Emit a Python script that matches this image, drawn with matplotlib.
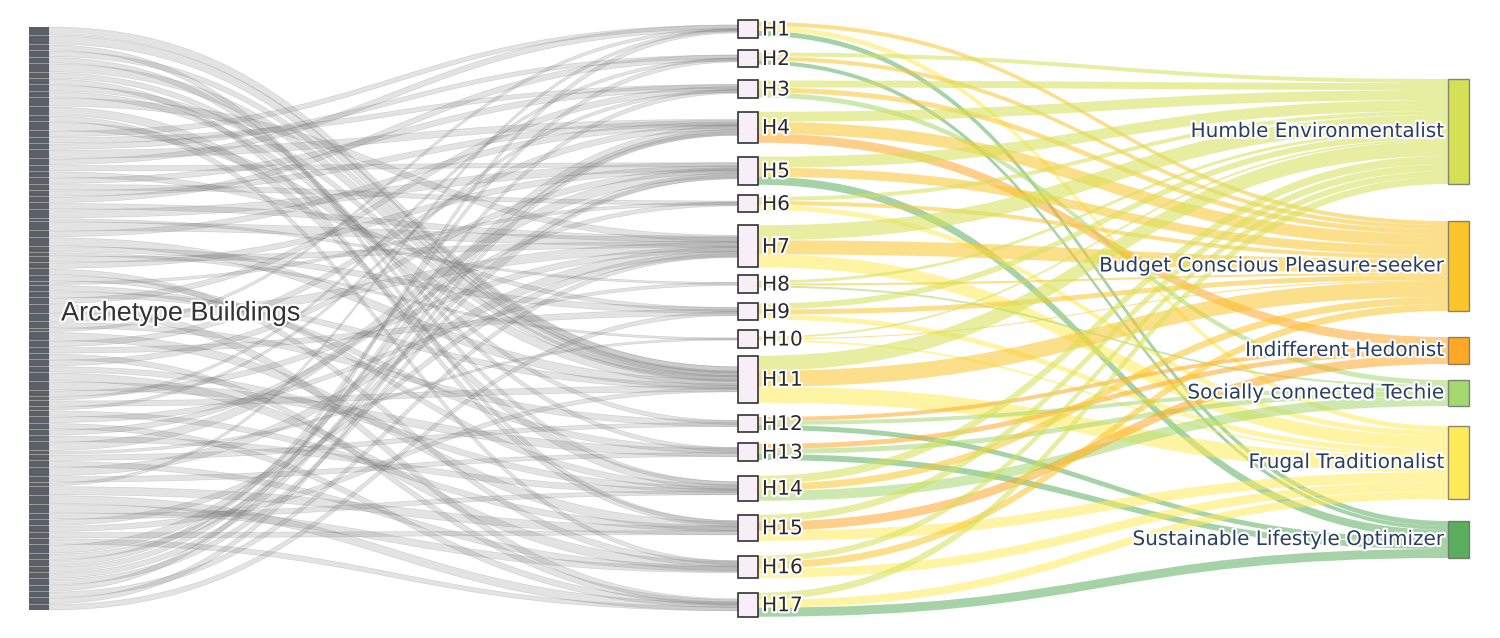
import numpy as np
import matplotlib
matplotlib.use("Agg")
import matplotlib.pyplot as plt
from matplotlib.path import Path
from matplotlib.patches import PathPatch, Rectangle
import matplotlib.patheffects as pe

# ---------------- data ----------------
source_label = "Archetype Buildings"
households = ["H1", "H2", "H3", "H4", "H5", "H6", "H7", "H8", "H9", "H10",
              "H11", "H12", "H13", "H14", "H15", "H16", "H17"]
personas = ["Humble Environmentalist", "Budget Conscious Pleasure-seeker",
            "Indifferent Hedonist", "Socially connected Techie",
            "Frugal Traditionalist", "Sustainable Lifestyle Optimizer"]
persona_colors = ["#d4e157", "#fbc52b", "#ffa726", "#a5d86e", "#ffeb5a", "#5cae5f"]

# household -> persona flows (rows H1..H17; cols follow `personas`)
household_to_persona = [
    [0, 4, 0, 0, 5, 5],
    [4, 4, 0, 0, 0, 4],
    [7, 5, 0, 5, 0, 0],
    [10, 12, 9, 0, 0, 0],
    [11, 9, 0, 0, 0, 8],
    [4, 4, 0, 0, 5, 0],
    [15, 14, 0, 0, 13, 0],
    [3, 2, 0, 2, 0, 0],
    [6, 5, 0, 0, 5, 0],
    [2, 1, 0, 0, 2, 0],
    [15, 16, 0, 0, 16, 0],
    [0, 0, 4, 4, 0, 5],
    [0, 0, 5, 5, 0, 6],
    [8, 7, 0, 10, 0, 0],
    [7, 0, 9, 0, 10, 0],
    [6, 7, 0, 0, 9, 0],
    [7, 0, 0, 0, 8, 9],
]

# archetype buildings (top to bottom): target household number and flow
building_target = [11, 11, 15, 11, 14, 11, 13, 15, 11, 12, 7, 14, 16, 11,
                   1, 3, 2, 4, 1, 5, 9, 3, 6, 4, 2,
                   7, 5, 8, 7, 4, 11, 9, 10, 7, 5, 16, 14, 6, 13, 11, 3, 17,
                   7, 12, 1, 15, 4, 9, 17, 5, 14, 16, 13, 7, 2, 11, 3, 15, 8,
                   17, 6, 14, 5, 10, 12, 16, 7, 13, 1, 15, 17, 16, 14, 7, 11,
                   15, 17, 4, 5, 2, 3, 4, 5, 1, 7, 4, 9]
building_value = [3, 3, 2, 2, 2, 3, 2, 2, 2, 2, 3, 3, 2, 3,
                  2, 2, 2, 3, 2, 2, 2, 2, 2, 2, 2,
                  2, 3, 1, 3, 2, 3, 2, 1, 2, 2, 2, 2, 1, 2, 2, 2, 3,
                  3, 2, 1, 3, 2, 2, 2, 2, 2, 3, 3, 2, 1, 2, 1, 2, 2,
                  2, 2, 2, 3, 1, 2, 2, 3, 2, 1, 3, 3, 3, 2, 2, 2,
                  2, 2, 3, 2, 2, 2, 2, 2, 2, 2, 2, 2]

# ---------------- layout / style ----------------
W, H = 1500, 638
NODE_W = 20
X_LEFT, X_MID, X_RIGHT = 29, 738, 1448
CENTER_Y = 318.5
SCALE = 1.0            # px per unit (middle & right columns)
MID_GAPS = [12, 13, 14, 14, 10, 13, 8, 10, 10, 8, 12, 11, 15, 14, 15, 15]
RIGHT_GAPS = [37, 26, 16, 20, 22]
LEFT_SPAN, LEFT_GAP = 583, 1.0
MIN_NODE = 17.5
OVERLAP = 3.0          # px per unit of gray links where they meet households

fig = plt.figure(figsize=(W / 100, H / 100), dpi=100)
ax = fig.add_axes([0, 0, 1, 1])
ax.set_xlim(0, W)
ax.set_ylim(H, 0)
ax.axis("off")


def band(x0, y0t, y0b, x1, y1t, y1b, fc, ec="none", lw=0, z=1):
    xm = (x0 + x1) / 2
    verts = [(x0, y0t), (xm, y0t), (xm, y1t), (x1, y1t),
             (x1, y1b), (xm, y1b), (xm, y0b), (x0, y0b), (x0, y0t)]
    codes = [Path.MOVETO, Path.CURVE4, Path.CURVE4, Path.CURVE4,
             Path.LINETO, Path.CURVE4, Path.CURVE4, Path.CURVE4, Path.CLOSEPOLY]
    ax.add_patch(PathPatch(Path(verts, codes), fc=fc, ec=ec, lw=lw, zorder=z))


def stack(heights, gaps):
    gaps = np.asarray(gaps, dtype=float)
    total = heights.sum() + gaps.sum()
    offs = np.concatenate([[0], np.cumsum(heights[:-1] + gaps)])
    return CENTER_Y - total / 2 + offs


M = np.array(household_to_persona, dtype=float)
nH, nP = M.shape
bt = np.array(building_target) - 1
bv = np.array(building_value, dtype=float)
h_in = np.array([bv[bt == i].sum() for i in range(nH)])
h_out = M.sum(axis=1)
p_in = M.sum(axis=0)

# middle column
h_height = np.maximum(MIN_NODE, np.maximum(h_in, h_out) * SCALE)
h_top = stack(h_height, MID_GAPS)
h_ctr = h_top + h_height / 2

# right column
p_height = p_in * SCALE
p_top = stack(p_height, RIGHT_GAPS)

# left column (individual building nodes)
nb = len(bv)
s_left = (LEFT_SPAN - LEFT_GAP * (nb - 1)) / bv.sum()
b_h = bv * s_left
b_top = stack(b_h, [LEFT_GAP] * (nb - 1))

# ---- gray links: buildings -> households
used = np.zeros(nH)
for k in range(nb):
    h = bt[k]
    band_w = h_in[h] * SCALE
    btop = h_ctr[h] - band_w / 2
    c = btop + (used[h] + bv[k] / 2) / h_in[h] * band_w
    used[h] += bv[k]
    w = bv[k] * OVERLAP
    y1t = max(btop, c - w / 2)
    y1b = min(btop + band_w, c + w / 2)
    band(X_LEFT + NODE_W, b_top[k], b_top[k] + b_h[k], X_MID, y1t, y1b,
         fc=(0.45, 0.45, 0.45, 0.2), ec=(0.45, 0.45, 0.45, 0.22), lw=0.5, z=1)

# ---- colored links: households -> personas
out_used = h_ctr - h_out * SCALE / 2
in_used = p_top.copy()
for i in range(nH):
    for j in range(nP):
        v = M[i, j] * SCALE
        if v <= 0:
            continue
        y0t = out_used[i]
        out_used[i] += v
        y1t = in_used[j]
        in_used[j] += v
        band(X_MID + NODE_W, y0t, y0t + v, X_RIGHT, y1t, y1t + v,
             fc=matplotlib.colors.to_rgba(persona_colors[j], 0.55), z=2)

# ---- nodes
halo = [pe.withStroke(linewidth=3, foreground="white")]
ax.add_patch(Rectangle((X_LEFT, b_top[0]), NODE_W, LEFT_SPAN, fc="#9a9a9a", ec="none", zorder=3))
for k in range(nb):
    ax.add_patch(Rectangle((X_LEFT, b_top[k]), NODE_W, b_h[k], fc="#5b5f66", ec="none", zorder=4))
ax.text(X_LEFT + NODE_W + 12, CENTER_Y - 5, source_label, fontsize=19.5,
        family="Liberation Sans", color="#333333", va="center", ha="left",
        zorder=6, path_effects=halo)

for i in range(nH):
    ax.add_patch(Rectangle((X_MID, h_top[i]), NODE_W, h_height[i], fc="#f8eef8",
                           ec="#333333", lw=1.2, zorder=4))
    ax.text(X_MID + NODE_W + 4, h_ctr[i] + 1, households[i], fontsize=14.5,
            family="DejaVu Sans", color="#2b2b2b", va="center", ha="left",
            zorder=6, path_effects=halo)

for j in range(nP):
    ax.add_patch(Rectangle((X_RIGHT, p_top[j]), NODE_W + 1, p_height[j], fc=persona_colors[j],
                           ec=(0.35, 0.35, 0.35, 0.7), lw=1.0, zorder=4))
    ax.text(X_RIGHT - 3, p_top[j] + p_height[j] / 2, personas[j], fontsize=14.4,
            family="DejaVu Sans", color="#2a3f5f", va="center", ha="right",
            zorder=6, path_effects=halo)

fig.savefig("out.png", dpi=100, facecolor="white")
